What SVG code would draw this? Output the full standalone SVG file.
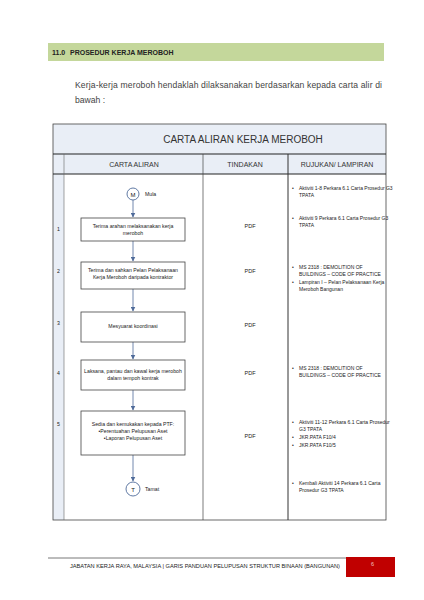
<svg xmlns="http://www.w3.org/2000/svg" width="424" height="600" viewBox="0 0 424 600">
<defs>
<marker id="ah" markerWidth="5" markerHeight="5" refX="4.5" refY="2.5" orient="auto" markerUnits="userSpaceOnUse">
<path d="M0,0 L5,2.5 L0,5 z" fill="#4f6b9a"/>
</marker>
<style>
text{font-family:"Liberation Sans",Arial,sans-serif;fill:#222}
.hdr{font-size:7px;font-weight:bold}
.par{font-size:8.6px;fill:#444}
.ttl{font-size:10px;fill:#333}
.col{font-size:7px;fill:#333}
.box{fill:#fff;stroke:#444;stroke-width:0.8}
.bt{font-size:5.2px;text-anchor:middle}
.num{font-size:5.2px}
.rt{font-size:5px}
.pdf{font-size:5.5px;text-anchor:middle}
.con{stroke:#4f6b9a;stroke-width:0.8;fill:none;marker-end:url(#ah)}
.circ{fill:#fff;stroke:#4f6b9a;stroke-width:0.9}
</style>
</defs>
<rect width="424" height="600" fill="#fff"/>
<!-- header band -->
<rect x="48" y="43" width="336" height="18" fill="#c4d79b"/>
<text class="hdr" x="52" y="55">11.0</text>
<text class="hdr" x="70" y="55">PROSEDUR KERJA MEROBOH</text>
<text class="par" x="75" y="88" textLength="307" lengthAdjust="spacing">Kerja-kerja meroboh hendaklah dilaksanakan berdasarkan kepada carta alir di</text>
<text class="par" x="75" y="103">bawah :</text>
<!-- table -->
<g id="table">
<rect x="53" y="124" width="333" height="30" fill="#e9eef6"/>
<rect x="53" y="154" width="333" height="20" fill="#e9eef6"/>
<rect x="53" y="174" width="11" height="346" fill="#e9eef6"/>
<rect x="53" y="124" width="333" height="396" fill="none" stroke="#444" stroke-width="0.8"/>
<line x1="53" y1="154" x2="386" y2="154" stroke="#222" stroke-width="1.2"/>
<line x1="53" y1="174" x2="386" y2="174" stroke="#222" stroke-width="1.2"/>
<line x1="64" y1="154" x2="64" y2="520" stroke="#666" stroke-width="0.6"/>
<line x1="203" y1="154" x2="203" y2="520" stroke="#444" stroke-width="0.7"/>
<line x1="288" y1="154" x2="288" y2="520" stroke="#333" stroke-width="1"/>
<text class="ttl" x="243" y="143" text-anchor="middle">CARTA ALIRAN KERJA MEROBOH</text>
<text class="col" x="134" y="167" text-anchor="middle">CARTA ALIRAN</text>
<text class="col" x="245" y="167" text-anchor="middle">TINDAKAN</text>
<text class="col" x="337" y="167" text-anchor="middle">RUJUKAN/ LAMPIRAN</text>
<text class="num" x="57" y="231">1</text>
<text class="num" x="57" y="273">2</text>
<text class="num" x="57" y="325">3</text>
<text class="num" x="57" y="375">4</text>
<text class="num" x="57" y="426">5</text>
</g>
<!-- connectors -->
<g id="connectors">
<line class="con" x1="133" y1="200" x2="133" y2="217"/>
<line class="con" x1="133" y1="241" x2="133" y2="261"/>
<line class="con" x1="133" y1="289" x2="133" y2="311"/>
<line class="con" x1="133" y1="342" x2="133" y2="359"/>
<line class="con" x1="133" y1="390" x2="133" y2="410"/>
<line class="con" x1="133" y1="455" x2="133" y2="481"/>
</g>
<!-- nodes -->
<g id="start">
<circle class="circ" cx="133" cy="194" r="6"/>
<text x="133" y="196.5" font-size="6" text-anchor="middle">M</text>
<text x="145" y="196" font-size="5.2">Mula</text>
</g>
<g id="n1">
<rect class="box" x="81" y="218" width="104" height="23"/>
<text class="bt" x="133" y="228">Terima arahan melaksanakan kerja</text>
<text class="bt" x="133" y="235">meroboh</text>
</g>
<g id="n2">
<rect class="box" x="81" y="262" width="104" height="27"/>
<text class="bt" x="133" y="272">Terima dan sahkan Pelan Pelaksanaan</text>
<text class="bt" x="133" y="279">Kerja Meroboh daripada kontraktor</text>
</g>
<g id="n3">
<rect class="box" x="81" y="312" width="104" height="30"/>
<text class="bt" x="133" y="328">Mesyuarat koordinasi</text>
</g>
<g id="n4">
<rect class="box" x="81" y="360" width="104" height="30"/>
<text class="bt" x="133" y="373">Laksana, pantau dan kawal kerja meroboh</text>
<text class="bt" x="133" y="380">dalam tempoh kontrak</text>
</g>
<g id="n5">
<rect class="box" x="81" y="411" width="104" height="44"/>
<text class="bt" x="133" y="426">Sedia dan kemukakan kepada PTF:</text>
<text class="bt" x="133" y="433">•Perentuahan Pelupusan Aset</text>
<text class="bt" x="133" y="440">•Laporan Pelupusan Aset</text>
</g>
<g id="end">
<circle class="circ" cx="133" cy="489" r="7"/>
<text x="133" y="491.5" font-size="6" text-anchor="middle">T</text>
<text x="145" y="491" font-size="5.2">Tamat</text>
</g>
<!-- tindakan -->
<g id="tindakan">
<text class="pdf" x="250" y="228">PDF</text>
<text class="pdf" x="250" y="273">PDF</text>
<text class="pdf" x="250" y="327">PDF</text>
<text class="pdf" x="250" y="375">PDF</text>
<text class="pdf" x="250" y="438">PDF</text>
</g>
<!-- rujukan -->
<g id="rujukan">
<text class="rt" x="292" y="190">•</text>
<text class="rt" x="299" y="190">Aktiviti 1-8 Perkara  6.1 Carta Prosedur G3</text>
<text class="rt" x="299" y="197">TPATA</text>
<text class="rt" x="292" y="220">•</text>
<text class="rt" x="299" y="220">Aktiviti 9 Perkara  6.1 Carta Prosedur G3</text>
<text class="rt" x="299" y="227">TPATA</text>
<text class="rt" x="292" y="269">•</text>
<text class="rt" x="299" y="269">MS 2318 :  DEMOLITION OF</text>
<text class="rt" x="299" y="276">BUILDINGS – CODE OF PRACTICE</text>
<text class="rt" x="292" y="284">•</text>
<text class="rt" x="299" y="284">Lampiran I – Pelan Pelaksanaan Kerja</text>
<text class="rt" x="299" y="291">Meroboh Bangunan</text>
<text class="rt" x="292" y="370">•</text>
<text class="rt" x="299" y="370">MS 2318 :  DEMOLITION OF</text>
<text class="rt" x="299" y="377">BUILDINGS – CODE OF PRACTICE</text>
<text class="rt" x="292" y="424">•</text>
<text class="rt" x="299" y="424">Aktiviti 11-12 Perkara 6.1 Carta Prosedur</text>
<text class="rt" x="299" y="431">G3 TPATA</text>
<text class="rt" x="292" y="439">•</text>
<text class="rt" x="299" y="439">JKR.PATA F10/4</text>
<text class="rt" x="292" y="447">•</text>
<text class="rt" x="299" y="447">JKR.PATA F10/5</text>
<text class="rt" x="292" y="485">•</text>
<text class="rt" x="299" y="485">Kembali Aktiviti 14 Perkara  6.1 Carta</text>
<text class="rt" x="299" y="492">Prosedur G3 TPATA</text>
</g>
<!-- footer -->
<line x1="48" y1="558" x2="346" y2="558" stroke="#555" stroke-width="0.8"/>
<text x="70" y="568" font-size="5.2" fill="#333" textLength="270" lengthAdjust="spacingAndGlyphs">JABATAN KERJA RAYA, MALAYSIA | GARIS PANDUAN PELUPUSAN STRUKTUR BINAAN (BANGUNAN)</text>
<rect x="346" y="557" width="49" height="20" fill="#c00000"/>
<text x="371" y="566" font-size="5.5" style="fill:#f4c0c0">6</text>
</svg>
